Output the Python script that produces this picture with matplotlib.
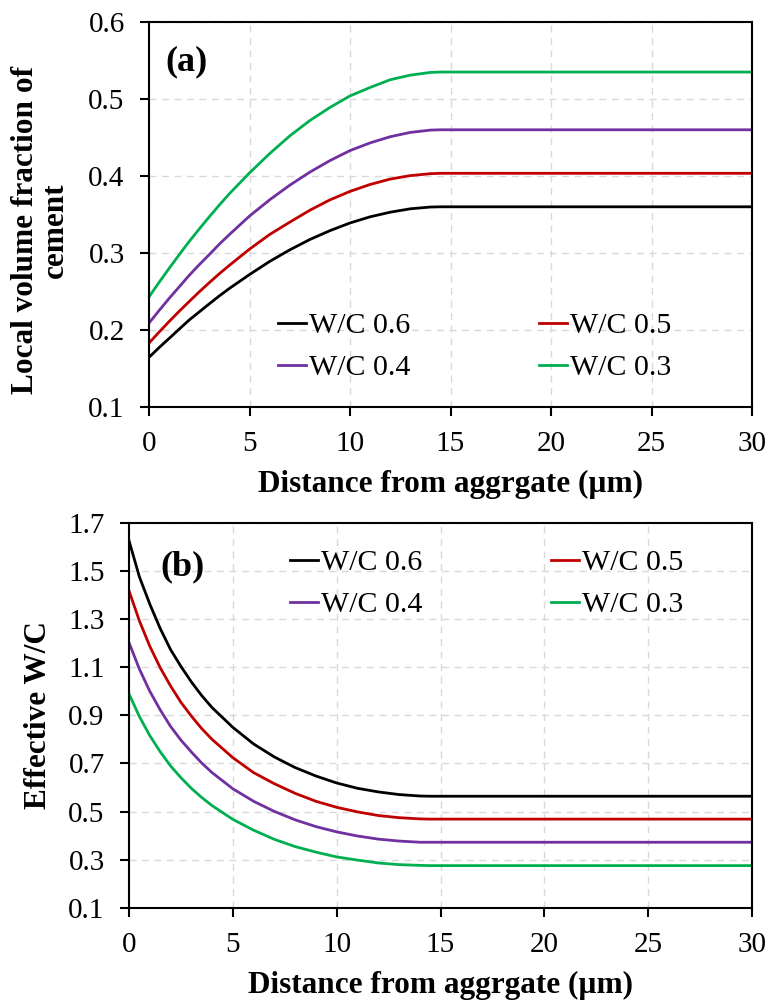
import numpy as np
import matplotlib
matplotlib.use('Agg')
import matplotlib.pyplot as plt

plt.rcParams['font.family'] = ['Liberation Serif', 'DejaVu Serif']

# distance from aggregate (um)
dist = [0, 0.5, 1, 1.5, 2, 2.5, 3, 3.5, 4, 5, 6, 7, 8, 9, 10, 11, 12, 13, 14, 14.5, 30]

labels = ['W/C 0.6', 'W/C 0.5', 'W/C 0.4', 'W/C 0.3']
colors = ['#000000', '#C00000', '#7030A0', '#00B050']

# (a) local volume fraction of cement
vf_06 = [0.1645, 0.1771, 0.189, 0.2011, 0.213, 0.2235, 0.234, 0.2443, 0.254, 0.272, 0.289,
         0.304, 0.3175, 0.329, 0.339, 0.347, 0.353, 0.3574, 0.3597, 0.360, 0.360]
vf_05 = [0.183, 0.1972, 0.211, 0.2243, 0.237, 0.2496, 0.2615, 0.2731, 0.284, 0.305, 0.324,
         0.340, 0.3555, 0.369, 0.380, 0.389, 0.396, 0.4005, 0.403, 0.4035, 0.4035]
vf_04 = [0.209, 0.2252, 0.241, 0.256, 0.271, 0.2848, 0.298, 0.3115, 0.324, 0.348, 0.369,
         0.388, 0.405, 0.420, 0.433, 0.443, 0.451, 0.4566, 0.4596, 0.460, 0.460]
vf_03 = [0.243, 0.2618, 0.280, 0.2977, 0.315, 0.3312, 0.347, 0.3623, 0.377, 0.404, 0.429,
         0.452, 0.472, 0.489, 0.504, 0.515, 0.525, 0.531, 0.5345, 0.535, 0.535]

# (b) effective W/C
wc_06 = [1.625, 1.475, 1.362, 1.261, 1.173, 1.103, 1.039, 0.982, 0.932, 0.850, 0.781,
         0.727, 0.683, 0.648, 0.619, 0.597, 0.582, 0.571, 0.565, 0.564, 0.564]
wc_05 = [1.417, 1.292, 1.187, 1.098, 1.022, 0.954, 0.897, 0.845, 0.800, 0.724, 0.662,
         0.616, 0.576, 0.543, 0.518, 0.499, 0.484, 0.475, 0.470, 0.469, 0.469]
wc_04 = [1.202, 1.092, 1.000, 0.923, 0.854, 0.797, 0.748, 0.702, 0.662, 0.595, 0.543,
         0.501, 0.466, 0.438, 0.416, 0.399, 0.386, 0.378, 0.373, 0.373, 0.373]
wc_03 = [0.989, 0.895, 0.816, 0.749, 0.690, 0.641, 0.597, 0.559, 0.525, 0.468, 0.423,
         0.385, 0.355, 0.332, 0.312, 0.299, 0.287, 0.280, 0.277, 0.276, 0.276]

vf_all = [vf_06, vf_05, vf_04, vf_03]
wc_all = [wc_06, wc_05, wc_04, wc_03]

W, H = 769, 1005
fig = plt.figure(figsize=(W / 100, H / 100), dpi=100)

ax1 = fig.add_axes([149 / W, 1 - 407 / H, 603 / W, 385 / H])
ax2 = fig.add_axes([129 / W, 1 - 908 / H, 623 / W, 385.4 / H])


def style_axes(ax):
    ax.set_xlim(0, 30)
    ax.set_xticks(np.arange(0, 31, 5))
    ax.grid(True, color='#d9d9d9', linestyle=(0, (5, 4)), linewidth=1.0)
    ax.set_axisbelow(True)
    for s in ax.spines.values():
        s.set_linewidth(1.5)
        s.set_color('black')
    ax.tick_params(direction='out', length=6.5, width=1.5, labelsize=21,
                   top=False, right=False, pad=11)
    ax.set_xlabel('Distance from aggrgate (\u00b5m)', fontsize=22.5,
                  fontweight='bold', labelpad=9)


def add_legend(ax, lines, anchor):
    # reference legend fills row by row: reorder for matplotlib's column fill
    order = [0, 2, 1, 3]
    ax.legend([lines[i] for i in order], [labels[i] for i in order],
              loc='center', bbox_to_anchor=anchor, ncol=2, frameon=False,
              fontsize=21.5, handlelength=0.95, handletextpad=0.1,
              columnspacing=4.3, labelspacing=0.5, borderpad=0)


lines1 = []
for vals, lab, c in zip(vf_all, labels, colors):
    lines1 += ax1.plot(dist, vals, color=c, lw=2.0, label=lab)
style_axes(ax1)
ax1.set_ylim(0.1, 0.6)
ax1.set_yticks(np.arange(0.1, 0.61, 0.1))
ax1.yaxis.set_major_formatter(matplotlib.ticker.FormatStrFormatter('%.1f'))
ax1.set_ylabel('Local volume fraction of\ncement', fontsize=22.5,
               fontweight='bold', linespacing=1.05)
ax1.yaxis.set_label_coords(-0.131, 0.46)
ax1.text(0.027, 0.896, '(a)', transform=ax1.transAxes, fontsize=26,
         fontweight='bold', va='center', ha='left')
add_legend(ax1, lines1, (0.54, 0.156))

lines2 = []
for vals, lab, c in zip(wc_all, labels, colors):
    lines2 += ax2.plot(dist, vals, color=c, lw=2.0, label=lab)
style_axes(ax2)
ax2.set_ylim(0.1, 1.7)
ax2.set_yticks(np.arange(0.1, 1.71, 0.2))
ax2.yaxis.set_major_formatter(matplotlib.ticker.FormatStrFormatter('%.1f'))
ax2.set_ylabel('Effective W/C', fontsize=22.5, fontweight='bold')
ax2.yaxis.set_label_coords(-0.122, 0.5)
ax2.text(0.051, 0.885, '(b)', transform=ax2.transAxes, fontsize=26,
         fontweight='bold', va='center', ha='left')
add_legend(ax2, lines2, (0.574, 0.841))

fig.savefig('out.png', dpi=100)
